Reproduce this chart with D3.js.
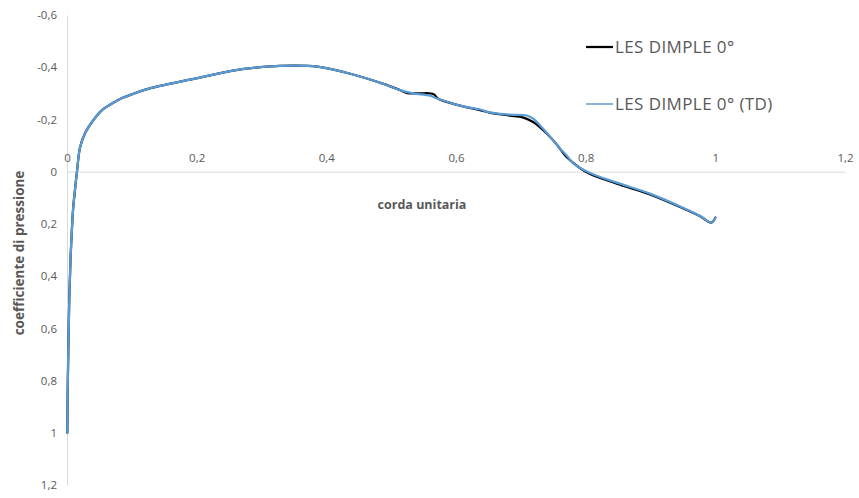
<!DOCTYPE html>
<html>
<head>
<meta charset="utf-8">
<script src="https://cdn.jsdelivr.net/npm/d3@7"></script>
<style>
  html, body { margin: 0; padding: 0; background: #fff; }
  svg { display: block; }
  text { font-family: "Open Sans", "Noto Sans", sans-serif; fill: #595959; }
</style>
</head>
<body>
<svg id="chart" width="859" height="498"></svg>
<script>
// Pressure coefficient along the unit chord
const seriesNames = ["LES DIMPLE 0°", "LES DIMPLE 0° (TD)"];
const seriesColors = ["#000000", "#5b9bd5"];

const lesX = [0.0005, 0.001, 0.002, 0.0035, 0.0055, 0.0072, 0.0092, 0.011, 0.0154, 0.020, 0.028, 0.040, 0.054, 0.070, 0.085, 0.102, 0.125, 0.154, 0.180, 0.205, 0.256, 0.308, 0.349, 0.386, 0.437, 0.487, 0.514, 0.525, 0.545, 0.558, 0.566, 0.572, 0.606, 0.637, 0.652, 0.683, 0.703, 0.719, 0.740, 0.755, 0.771, 0.790, 0.806, 0.848, 0.899, 0.950, 0.976, 0.994, 1.0];
const lesCp = [1.0, 0.85, 0.69, 0.49, 0.33, 0.24, 0.15, 0.10, 0.0, -0.092, -0.148, -0.195, -0.236, -0.262, -0.282, -0.298, -0.317, -0.334, -0.348, -0.360, -0.387, -0.402, -0.406, -0.402, -0.375, -0.337, -0.312, -0.301, -0.300, -0.300, -0.296, -0.280, -0.253, -0.236, -0.226, -0.215, -0.208, -0.190, -0.146, -0.105, -0.055, -0.016, 0.008, 0.046, 0.087, 0.140, 0.170, 0.195, 0.176];

const tdX = [0.0005, 0.001, 0.002, 0.0035, 0.0055, 0.0072, 0.0092, 0.011, 0.0154, 0.020, 0.028, 0.040, 0.054, 0.070, 0.085, 0.102, 0.125, 0.154, 0.180, 0.205, 0.256, 0.308, 0.349, 0.386, 0.437, 0.487, 0.514, 0.534, 0.560, 0.571, 0.606, 0.637, 0.652, 0.683, 0.709, 0.719, 0.734, 0.750, 0.760, 0.771, 0.780, 0.806, 0.848, 0.899, 0.950, 0.976, 0.994, 1.0];
const tdCp = [1.0, 0.85, 0.69, 0.49, 0.33, 0.24, 0.15, 0.10, 0.0, -0.092, -0.148, -0.195, -0.236, -0.262, -0.282, -0.298, -0.317, -0.334, -0.348, -0.360, -0.387, -0.402, -0.406, -0.402, -0.375, -0.337, -0.312, -0.300, -0.291, -0.280, -0.253, -0.238, -0.227, -0.218, -0.215, -0.203, -0.165, -0.119, -0.090, -0.061, -0.034, 0.004, 0.042, 0.084, 0.138, 0.169, 0.195, 0.176];

const xTicks = [0, 0.2, 0.4, 0.6, 0.8, 1, 1.2];
const yTicks = [-0.6, -0.4, -0.2, 0, 0.2, 0.4, 0.6, 0.8, 1, 1.2];

const xTitle = "corda unitaria";
const yTitle = "coefficiente di pressione";

const svg = d3.select("#chart");
const plot = { left: 67, right: 845, top: 15, bottom: 485 };

const x = d3.scaleLinear().domain([0, 1.2]).range([plot.left, plot.right]);
const y = d3.scaleLinear().domain([-0.6, 1.2]).range([plot.top, plot.bottom]);

const fmt = d => String(+d.toFixed(1)).replace(".", ",");

// vertical axis, labels on the left
const yAxis = svg.append("g")
  .attr("transform", `translate(${plot.left},0)`)
  .call(d3.axisLeft(y).tickValues(yTicks).tickFormat(fmt).tickSize(0).tickPadding(10));
yAxis.select(".domain").attr("stroke", "#d9d9d9").attr("stroke-width", 1);
yAxis.selectAll("text").style("font-size", "11.5px").attr("fill", "#595959");

// horizontal axis crossing at Cp = 0, labels above
const xAxis = svg.append("g")
  .attr("transform", `translate(0,${y(0)})`)
  .call(d3.axisTop(x).tickValues(xTicks).tickFormat(fmt).tickSize(0).tickPadding(10));
xAxis.select(".domain").attr("stroke", "#d9d9d9").attr("stroke-width", 1);
xAxis.selectAll("text").style("font-size", "11.5px").attr("fill", "#595959");

svg.append("text")
  .attr("x", 422).attr("y", 209)
  .attr("text-anchor", "middle")
  .style("font-size", "12.5px").style("font-weight", "bold")
  .text(xTitle);

svg.append("text")
  .attr("transform", "translate(24,253) rotate(-90)")
  .attr("text-anchor", "middle")
  .style("font-size", "13.5px").style("font-weight", "bold")
  .text(yTitle);

const line = d3.line()
  .x(d => x(d[0]))
  .y(d => y(d[1]))
  .curve(d3.curveCatmullRom.alpha(0.5));

const series = [
  d3.zip(lesX, lesCp),
  d3.zip(tdX, tdCp)
];

svg.append("g").selectAll("path")
  .data(series)
  .join("path")
  .attr("d", line)
  .attr("fill", "none")
  .attr("stroke", (d, i) => seriesColors[i])
  .attr("stroke-width", 2.25)
  .attr("stroke-linejoin", "round")
  .attr("stroke-linecap", "round");

// legend
const legend = svg.append("g");
const legendY = [47, 104];
seriesNames.forEach((name, i) => {
  legend.append("line")
    .attr("x1", 586).attr("x2", 613)
    .attr("y1", legendY[i]).attr("y2", legendY[i])
    .attr("stroke", seriesColors[i])
    .attr("stroke-width", i === 0 ? 2.25 : 1.5);
  legend.append("text")
    .attr("x", 615).attr("y", legendY[i])
    .attr("dy", "0.35em")
    .style("font-size", "17px")
    .style("letter-spacing", "0.4px")
    .text(name);
});
</script>
</body>
</html>
